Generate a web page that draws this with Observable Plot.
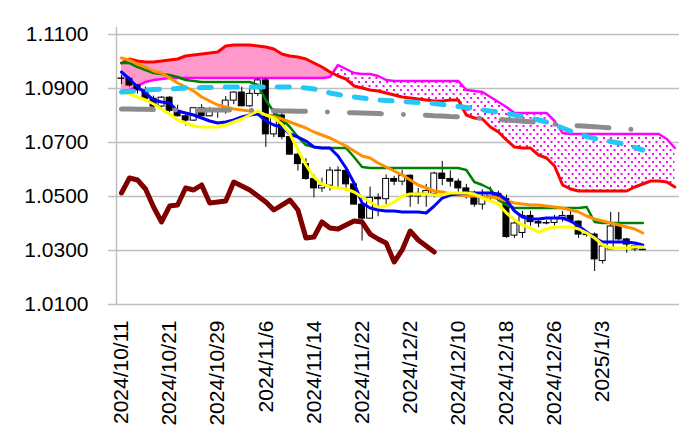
<!DOCTYPE html>
<html><head><meta charset="utf-8">
<script src="https://cdn.jsdelivr.net/npm/d3@7"></script>
<script src="https://cdn.jsdelivr.net/npm/@observablehq/plot@0.6"></script>
<style>body{margin:0;background:#fff} svg{display:block}</style>
</head><body><div id="chart"></div>
<script>
const dates = ["2024/10/11","2024/10/14","2024/10/15","2024/10/16","2024/10/17","2024/10/18",
"2024/10/21","2024/10/22","2024/10/23","2024/10/24","2024/10/25",
"2024/10/28","2024/10/29","2024/10/30","2024/10/31","2024/11/1",
"2024/11/4","2024/11/5","2024/11/6","2024/11/7","2024/11/8",
"2024/11/11","2024/11/12","2024/11/13","2024/11/14","2024/11/15",
"2024/11/18","2024/11/19","2024/11/20","2024/11/21","2024/11/22",
"2024/11/25","2024/11/26","2024/11/27","2024/11/28","2024/11/29",
"2024/12/2","2024/12/3","2024/12/4","2024/12/5","2024/12/6",
"2024/12/9","2024/12/10","2024/12/11","2024/12/12","2024/12/13",
"2024/12/16","2024/12/17","2024/12/18","2024/12/19","2024/12/20",
"2024/12/23","2024/12/24","2024/12/25","2024/12/26","2024/12/27",
"2024/12/30","2024/12/31","2025/1/1","2025/1/2","2025/1/3",
"2025/1/6","2025/1/7","2025/1/8","2025/1/9","2025/1/10"];

const open = [1.0937,1.0936,1.0911,1.0893,1.0862,1.0833,1.0866,1.0817,1.0797,1.0781,
1.0827,1.0797,1.0816,1.0815,1.0855,1.0885,1.0834,1.0880,1.0930,1.0730,
1.0800,1.0720,1.0655,1.0620,1.0565,1.0530,1.0540,1.0596,1.0595,1.0545,
1.0470,1.0418,1.0495,1.0490,1.0565,1.0555,1.0577,1.0500,1.0510,1.0510,
1.0585,1.0565,1.0555,1.0530,1.0500,1.0470,1.0500,1.0510,1.0490,1.0355,
1.0365,1.0428,1.0405,1.0400,1.0402,1.0420,1.0428,1.0407,1.0359,1.0359,
1.0261,1.0304,1.0396,1.0341,1.0315,1.0303];
const high = [1.0948,1.0942,1.0915,1.0905,1.0872,1.0870,1.0870,1.0838,1.0810,1.0826,
1.0840,1.0830,1.0825,1.0870,1.0888,1.0905,1.0905,1.0937,1.0937,1.0825,
1.0810,1.0725,1.0660,1.0640,1.0580,1.0568,1.0608,1.0610,1.0610,1.0547,
1.0475,1.0535,1.0510,1.0580,1.0575,1.0597,1.0580,1.0530,1.0545,1.0590,
1.0630,1.0595,1.0565,1.0545,1.0520,1.0525,1.0535,1.0520,1.0505,1.0415,
1.0445,1.0445,1.0415,1.0410,1.0430,1.0445,1.0455,1.0410,1.0362,1.0365,
1.0320,1.0441,1.0441,1.0345,1.0320,1.0306];
const low = [1.0915,1.0905,1.0880,1.0860,1.0812,1.0828,1.0811,1.0795,1.0761,1.0778,
1.0800,1.0795,1.0790,1.0805,1.0840,1.0833,1.0830,1.0870,1.0682,1.0718,
1.0710,1.0654,1.0594,1.0560,1.0495,1.0515,1.0520,1.0525,1.0520,1.0470,
1.0335,1.0418,1.0425,1.0470,1.0540,1.0540,1.0460,1.0470,1.0460,1.0495,
1.0540,1.0535,1.0515,1.0490,1.0460,1.0450,1.0480,1.0480,1.0345,1.0345,
1.0345,1.0390,1.0385,1.0395,1.0390,1.0405,1.0400,1.0345,1.0350,1.0222,
1.0250,1.0300,1.0335,1.0290,1.0296,1.0299];
const close = [1.0936,1.0911,1.0893,1.0862,1.0833,1.0866,1.0817,1.0797,1.0781,1.0827,
1.0797,1.0816,1.0815,1.0855,1.0885,1.0834,1.0880,1.0930,1.0730,1.0800,
1.0720,1.0655,1.0620,1.0565,1.0530,1.0540,1.0596,1.0595,1.0545,1.0470,
1.0418,1.0495,1.0490,1.0565,1.0555,1.0577,1.0500,1.0510,1.0520,1.0585,
1.0565,1.0555,1.0530,1.0500,1.0470,1.0500,1.0510,1.0490,1.0350,1.0400,
1.0428,1.0405,1.0400,1.0402,1.0420,1.0428,1.0410,1.0359,1.0357,1.0267,
1.0315,1.0389,1.0341,1.0322,1.0304,1.0301];

// conversion line (blue)
const tenkan = [1.09611,1.09352,1.09056,1.08833,1.08574,1.08500,1.08463,1.08167,1.08093,1.08019,
1.07907,1.07796,1.07722,1.07759,1.07833,1.07944,1.08019,1.08056,1.07796,1.07648,
1.07574,1.07315,1.07204,1.07056,1.06833,1.06796,1.06796,1.06500,1.06056,1.05500,
1.04759,1.04574,1.04500,1.04463,1.04463,1.04426,1.04426,1.04426,1.04389,1.04648,
1.04944,1.05056,1.05093,1.05130,1.05130,1.05130,1.05130,1.05093,1.04870,1.04463,
1.04241,1.04167,1.04167,1.04204,1.04204,1.04204,1.04093,1.03907,1.03685,1.03463,
1.03315,1.03315,1.03315,1.03315,1.03278,1.03204];
// base line (green)
const kijun = [1.09944,1.09944,1.09796,1.09685,1.09574,1.09537,1.09500,1.09426,1.09315,1.09278,
1.09241,1.09241,1.09241,1.09241,1.09241,1.09241,1.09241,1.09130,1.08574,1.08130,
1.07870,1.07574,1.07204,1.06907,1.06833,1.06796,1.06796,1.06796,1.06796,1.06463,
1.06093,1.06056,1.06056,1.06056,1.06056,1.06056,1.06056,1.06056,1.06056,1.06056,
1.06056,1.06056,1.06056,1.05981,1.05537,1.05426,1.05278,1.04870,1.04685,1.04574,
1.04574,1.04574,1.04574,1.04574,1.04574,1.04574,1.04574,1.04574,1.04611,1.04056,
1.04019,1.04019,1.04019,1.04019,1.04019,1.04019];
// short moving average (yellow)
const maShort = [1.08907,1.08796,1.08685,1.08574,1.08426,1.08241,1.08056,1.07833,1.07722,1.07611,
1.07574,1.07574,1.07574,1.07648,1.07759,1.07870,1.08019,1.08167,1.08019,1.07907,
1.07685,1.07315,1.06722,1.06167,1.05722,1.05463,1.05352,1.05315,1.05278,1.05167,
1.04981,1.04796,1.04611,1.04648,1.04796,1.05019,1.05093,1.05093,1.05093,1.05056,
1.05056,1.05130,1.05130,1.05130,1.05093,1.04944,1.04833,1.04722,1.04389,1.04130,
1.03944,1.03833,1.03685,1.03796,1.03870,1.03870,1.03870,1.03796,1.03648,1.03463,
1.03204,1.03093,1.03093,1.03093,1.03130,1.03130];
// medium moving average (orange)
const maMid = [1.10130,1.10056,1.09907,1.09796,1.09648,1.09574,1.09389,1.09204,1.09056,1.08907,
1.08685,1.08537,1.08389,1.08315,1.08241,1.08204,1.08167,1.08093,1.08019,1.07944,
1.07870,1.07759,1.07648,1.07537,1.07389,1.07278,1.07167,1.07019,1.06870,1.06685,
1.06500,1.06426,1.06241,1.06093,1.05944,1.05796,1.05611,1.05426,1.05315,1.05204,
1.05167,1.05093,1.05056,1.05019,1.05019,1.04981,1.04981,1.04944,1.04833,1.04759,
1.04722,1.04685,1.04685,1.04648,1.04611,1.04574,1.04500,1.04426,1.04278,1.04167,
1.04093,1.04019,1.03944,1.03870,1.03796,1.03648];
// long moving average (light blue dashed)
const maLong = [1.08870,1.08889,1.08907,1.08944,1.08963,1.08981,1.08981,1.09000,1.09019,1.09019,
1.09037,1.09037,1.09056,1.09056,1.09056,1.09056,1.09056,1.09056,1.09056,1.09056,
1.09056,1.09056,1.09056,1.09019,1.08981,1.08926,1.08833,1.08778,1.08722,1.08685,
1.08648,1.08611,1.08574,1.08556,1.08537,1.08519,1.08500,1.08481,1.08463,1.08444,
1.08407,1.08370,1.08333,1.08296,1.08259,1.08204,1.08167,1.08111,1.08074,1.08019,
1.07963,1.07907,1.07833,1.07759,1.07648,1.07537,1.07426,1.07315,1.07222,1.07148,
1.07093,1.07037,1.06981,1.06907,1.06815,1.06722];
// very long moving average (gray dash-dot)
const maVeryLong = [1.0824,1.0824,1.0823,1.0823,1.0822,1.0821,1.0821,1.0820,1.0820,1.0820,
1.0820,1.0820,1.0820,1.0820,1.0820,1.0820,1.0819,1.0819,1.0818,1.0818,
1.0817,1.0817,1.0816,1.0816,1.0815,1.0814,1.0813,1.0812,1.0811,1.0810,
1.0809,1.0808,1.0807,1.0806,1.0805,1.0804,1.0803,1.0802,1.0801,1.0799,
1.0798,1.0796,1.0795,1.0793,1.0791,1.0789,1.0787,1.0785,1.0783,1.0781,
1.0779,1.0777,1.0774,1.0771,1.0768,1.0766,1.0764,1.0762,1.0760,1.0758,
1.0756,1.0754,1.0752,1.0750,1.0748];
// lagging span (dark red)
const chikou = [1.05130,1.05685,1.05611,1.05278,1.04611,1.04056,1.04648,1.04685,1.05315,1.05241,
1.05426,1.04759,1.04796,1.04833,1.05537,1.05389,1.05241,1.05019,1.04796,1.04500,
1.04685,1.04870,1.04500,1.03463,1.03500,1.04056,1.03833,1.03796,1.03944,1.04093,
1.04056,1.03611,1.03426,1.03278,1.02574,1.03019,1.03722,1.03389,1.03167,1.02944];
// leading spans (cloud)
const spanA = [1.09944,1.10093,1.10019,1.09981,1.09981,1.10019,1.10056,1.10093,1.10204,1.10241,
1.10278,1.10315,1.10352,1.10574,1.10611,1.10611,1.10611,1.10574,1.10537,1.10463,
1.10278,1.10204,1.10167,1.10093,1.09944,1.09796,1.09611,1.09463,1.09352,1.09093,
1.09019,1.08944,1.08907,1.08833,1.08759,1.08685,1.08648,1.08611,1.08574,1.08537,
1.08537,1.08574,1.08574,1.08019,1.07907,1.07870,1.07574,1.07389,1.07093,1.06833,
1.06796,1.06796,1.06537,1.06426,1.06130,1.05426,1.05278,1.05204,1.05204,1.05204,
1.05204,1.05204,1.05204,1.05204,1.05352,1.05463,1.05574,1.05574,1.05537,1.05352];
const spanB = [1.08907,1.08944,1.09093,1.09241,1.09315,1.09352,1.09389,1.09389,1.09389,1.09389,
1.09389,1.09389,1.09389,1.09389,1.09389,1.09389,1.09389,1.09389,1.09389,1.09389,
1.09389,1.09389,1.09389,1.09389,1.09389,1.09389,1.09426,1.09870,1.09722,1.09574,
1.09537,1.09537,1.09463,1.09315,1.09278,1.09278,1.09278,1.09278,1.09278,1.09278,
1.09278,1.09278,1.09278,1.08944,1.08907,1.08870,1.08685,1.08500,1.08315,1.08093,
1.08093,1.08093,1.08093,1.08093,1.07796,1.07352,1.07315,1.07315,1.07315,1.07315,
1.07315,1.07315,1.07315,1.07315,1.07315,1.07315,1.07315,1.07315,1.07130,1.06796];

const tickIdx = [0,6,12,18,24,30,36,42,48,54,60];
const yTicks = [1.01,1.03,1.05,1.07,1.09,1.11];

const candles = dates.map((d,i)=>({i, o:open[i], h:high[i], l:low[i], c:close[i]}));
const up = candles.filter(d=>d.c>=d.o), down = candles.filter(d=>d.c<d.o);
const cloud = spanA.map((a,i)=>({i, a, b:spanB[i], top:Math.max(a, spanB[i])}));
const ser = arr => arr.map((v,i)=>({i, v}));
const FONT = "'Liberation Sans', Arial, sans-serif";
const W = 0.37;

const svg = Plot.plot({
  width: 679, height: 445,
  marginLeft: 116, marginRight: 0, marginTop: 34, marginBottom: 141,
  x: {domain: [-0.62, 69.58], axis: null},
  y: {domain: [1.01, 1.11], axis: null},
  style: {fontFamily: FONT, background: "#fff", overflow: "visible"},
  marks: [
    Plot.ruleY(yTicks, {y: d=>d, x1: -1.62, x2: 69.58, stroke: "#bfbfbf", strokeWidth: 1.5}),
    Plot.ruleX([-0.62], {x: d=>d, y1: 1.01, y2: 1.1126, stroke: "#bfbfbf", strokeWidth: 1.5}),
    Plot.areaY(cloud, {x: "i", y1: "b", y2: "top", fill: "#ff99cc"}),
    Plot.areaY(cloud, {x: "i", y1: "a", y2: "top", fill: "url(#dots)"}),
    Plot.line(ser(spanB), {x: "i", y: "v", stroke: "#ff00ff", strokeWidth: 2.5}),
    Plot.line(ser(spanA), {x: "i", y: "v", stroke: "#ff0000", strokeWidth: 3}),
    Plot.ruleX(candles, {x: "i", y1: "l", y2: "h", stroke: "#000", strokeWidth: 1}),
    Plot.rect(down, {x1: d=>d.i-W, x2: d=>d.i+W, y1: "o", y2: "c", fill: "#000", stroke: "#000", strokeWidth: 1}),
    Plot.rect(up, {x1: d=>d.i-W, x2: d=>d.i+W, y1: "o", y2: "c", fill: "#fff", stroke: "#000", strokeWidth: 1}),
    Plot.line(ser(kijun), {x: "i", y: "v", stroke: "#008000", strokeWidth: 2.5}),
    Plot.line(ser(maMid), {x: "i", y: "v", stroke: "#ff9000", strokeWidth: 3}),
    Plot.line(ser(tenkan), {x: "i", y: "v", stroke: "#0000ff", strokeWidth: 3}),
    Plot.line(ser(maShort), {x: "i", y: "v", stroke: "#ffff00", strokeWidth: 3}),
    Plot.line(ser(maLong), {x: "i", y: "v", stroke: "#22c8f8", strokeWidth: 5, strokeDasharray: "12,14", strokeLinecap: "round"}),
    Plot.line(ser(maVeryLong), {x: "i", y: "v", stroke: "#8c8c8c", strokeWidth: 5, strokeDasharray: "32,22,0.01,22", strokeLinecap: "round"}),
    Plot.line(ser(chikou), {x: "i", y: "v", stroke: "#800000", strokeWidth: 5, strokeLinejoin: "round"}),
    Plot.text(yTicks, {y: d=>d, frameAnchor: "left", text: d=>d.toFixed(4), textAnchor: "end", dx: -28, fontSize: 21, fill: "#000"}),
    Plot.text(tickIdx, {x: d=>d, frameAnchor: "bottom", text: d=>dates[d], rotate: -90, textAnchor: "end", lineAnchor: "middle", dy: 16, fontSize: 21, fill: "#000"})
  ]
});

const defs = d3.select(svg).insert("defs", ":first-child");
const pat = defs.append("pattern").attr("id", "dots").attr("patternUnits", "userSpaceOnUse").attr("width", 7).attr("height", 8);
pat.append("rect").attr("width", 7).attr("height", 8).attr("fill", "#fff");
pat.append("rect").attr("x", 1).attr("y", 1).attr("width", 2).attr("height", 2).attr("fill", "#ff00ff");
pat.append("rect").attr("x", 4.5).attr("y", 5).attr("width", 2).attr("height", 2).attr("fill", "#ff00ff");

document.getElementById("chart").appendChild(svg);
</script>
</body></html>
